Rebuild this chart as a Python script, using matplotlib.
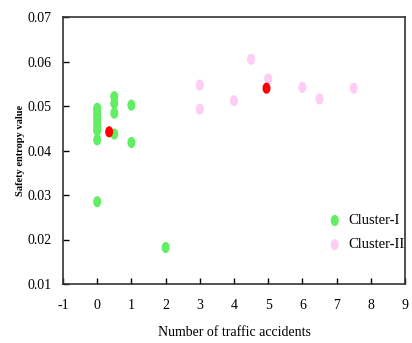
import matplotlib
matplotlib.use("Agg")
import matplotlib.pyplot as plt
import numpy as np
from matplotlib.path import Path

# Cluster I points (number of accidents, safety entropy)
c1_x = [0, 0, 0, 0, 0, 0, 0, 0, 0, 0.5, 0.5, 0.5, 0.5, 1, 1, 2]
c1_y = [0.0495, 0.049, 0.048, 0.047, 0.046, 0.045, 0.0445, 0.0424, 0.0285,
        0.0521, 0.0506, 0.0484, 0.0437, 0.0502, 0.0418, 0.0182]

# Cluster II points
c2_x = [3, 3, 4, 4.5, 5, 6, 6.5, 7.5]
c2_y = [0.0547, 0.0493, 0.0512, 0.0605, 0.0561, 0.0542, 0.0516, 0.0540]

# cluster centres
cen_x = [0.35, 4.95]
cen_y = [0.0442, 0.0540]

x_ticks = list(range(-1, 10))
y_ticks = [0.01, 0.02, 0.03, 0.04, 0.05, 0.06, 0.07]

plt.rcParams['font.family'] = ['Liberation Serif', 'DejaVu Serif']

# slightly tall ellipse marker (the original picture is stretched)
t = np.linspace(0, 2 * np.pi, 60)
ell = Path(np.column_stack([0.72 * np.cos(t), np.sin(t)]), closed=True)

fig = plt.figure(figsize=(4.12, 3.43), dpi=100)
ax = fig.add_axes([63 / 412, 1 - 284 / 343, (405 - 63) / 412, (284 - 17) / 343])

ax.scatter(c1_x, c1_y, s=64, marker=ell, color='#62ee62', edgecolors='none', label='Cluster-I', zorder=3)
ax.scatter(c2_x, c2_y, s=64, marker=ell, color='#ffccf5', edgecolors='none', label='Cluster-II', zorder=3)
ax.scatter(cen_x, cen_y, s=64, marker=ell, color='#ff0000', edgecolors='none', zorder=4)

ax.set_xlim(-1, 9)
ax.set_ylim(0.01, 0.07)
ax.set_xticks(x_ticks)
ax.set_xticklabels([str(t) for t in x_ticks])
ax.set_yticks(y_ticks)
ax.set_yticklabels([f"{t:.2f}" for t in y_ticks])
ax.tick_params(direction='in', length=4, width=1, labelsize=10)
ax.tick_params(axis='x', pad=11)
ax.tick_params(axis='y', pad=8)

for sp in ax.spines.values():
    sp.set_linewidth(1.2)
    sp.set_color('#333333')

ax.set_xlabel("Number of traffic accidents", fontsize=10, labelpad=10)
ax.set_ylabel("Safety entropy value", fontsize=7.5, fontweight='bold', labelpad=2)

ax.legend(loc='lower left', bbox_to_anchor=(0.752, 0.10), frameon=False,
          fontsize=10.5, handlelength=1.2, handletextpad=0.35,
          borderaxespad=0, labelspacing=0.75)

fig.savefig("out.png", dpi=100)
